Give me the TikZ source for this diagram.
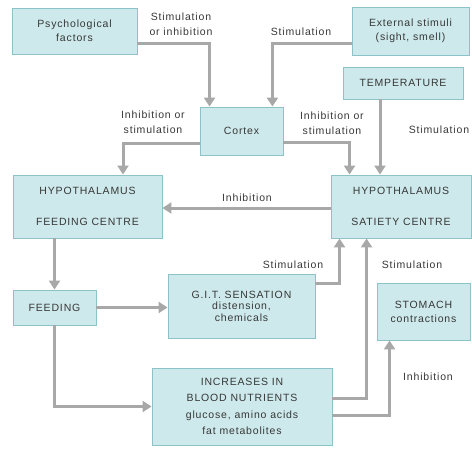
\documentclass[tikz,border=0pt]{standalone}
\usepackage{fontspec}
\setmainfont{Liberation Sans}[LetterSpace=8]
\usetikzlibrary{arrows.meta,calc}
\definecolor{boxfill}{RGB}{205,233,235}
\definecolor{boxdraw}{RGB}{140,195,200}
\definecolor{arrgray}{RGB}{168,168,168}
\definecolor{txtgray}{RGB}{55,55,55}
\begin{document}
\begin{tikzpicture}[x=1pt,y=-1pt,
  box/.style={draw=boxdraw,fill=boxfill,line width=0.9pt,inner sep=0pt,align=center,
    text=txtgray,font=\fontsize{10.5}{14}\selectfont},
  lbl/.style={align=center,text=txtgray,font=\fontsize{10.5}{15}\selectfont,inner sep=0pt},
  arr/.style={draw=arrgray,line width=3pt,-{Triangle[width=11pt,length=9pt]}}]
\useasboundingbox (0,0) rectangle (472,450);
% boxes
\node[box,minimum width=125pt,minimum height=46pt] (psych) at (74.5,31) {Psychological\\factors};
\node[box,minimum width=117pt,minimum height=48pt] (ext) at (410.5,31) {External stimuli\\(sight, smell)};
\node[box,minimum width=120pt,minimum height=32pt] (temp) at (403,83) {TEMPERATURE};
\node[box,minimum width=83pt,minimum height=48pt] (cortex) at (241.5,131) {Cortex};
\node[box,minimum width=149pt,minimum height=63pt] (feedc) at (87.5,206.5) {HYPOTHALAMUS\\[17pt]FEEDING CENTRE};
\node[box,minimum width=140pt,minimum height=63pt] (sat) at (401,206.5) {HYPOTHALAMUS\\[17pt]SATIETY CENTRE};
\node[box,minimum width=83pt,minimum height=35pt] (feeding) at (54.5,307.5) {FEEDING};
\node[box,minimum width=147pt,minimum height=64pt,font=\fontsize{10.5}{11.5}\selectfont] (git) at (241.5,306) {G.I.T. SENSATION\\distension,\\chemicals};
\node[box,minimum width=93pt,minimum height=57pt] (stomach) at (423.5,311.5) {STOMACH\\contractions};
\node[box,minimum width=180pt,minimum height=77pt,font=\fontsize{10.5}{16.5}\selectfont] (incr) at (242,406.5) {INCREASES IN\\BLOOD NUTRIENTS\\glucose, amino acids\\fat metabolites};
% labels
\node[lbl] (l1) at (181,24) {Stimulation\\or inhibition};
\node[lbl] (l2) at (301,32) {Stimulation};
\node[lbl] (l3) at (153,122) {Inhibition or\\stimulation};
\node[lbl] (l4) at (332,123) {Inhibition or\\stimulation};
\node[lbl] (l5) at (439,130) {Stimulation};
\node[lbl] (l6) at (247,198) {Inhibition};
\node[lbl] (l7) at (293,265) {Stimulation};
\node[lbl] (l8) at (412,265) {Stimulation};
\node[lbl] (l9) at (428,377) {Inhibition};
% connectors
\coordinate (c1) at ($(cortex.north west)+(10,0)$);
\coordinate (c2) at ($(cortex.north east)+(-11,0)$);
\draw[arr] ($(psych.east)+(0,12)$) -| (c1);
\draw[arr] ($(ext.west)+(0,12)$) -| (c2);
\coordinate (t1) at ($(temp.south)+(-23,0)$);
\draw[arr] (t1) -- (t1 |- sat.north);
\coordinate (f1) at ($(feedc.north)+(35.5,0)$);
\draw[arr] ($(cortex.west)+(0,12)$) -| (f1);
\coordinate (s1) at ($(sat.north west)+(19,0)$);
\draw[arr] ($(cortex.east)+(0,11)$) -| (s1);
\draw[arr] ($(sat.west)+(0,1.5)$) -- ($(feedc.east)+(0,1.5)$);
\draw[arr] (feeding.north |- feedc.south) -- (feeding.north);
\draw[arr] (feeding.east) -- (feeding.east -| git.west);
\draw[arr] (feeding.south) |- (incr.west);
\coordinate (s2) at ($(sat.south west)+(9,0)$);
\draw[arr] ($(git.east)+(0,-23)$) -| (s2);
\coordinate (s3) at ($(sat.south west)+(36,0)$);
\draw[arr] ($(incr.east)+(0,-8.5)$) -| (s3);
\coordinate (m1) at ($(stomach.south west)+(13,0)$);
\draw[arr] ($(incr.east)+(0,8.5)$) -| (m1);
\end{tikzpicture}
\end{document}
